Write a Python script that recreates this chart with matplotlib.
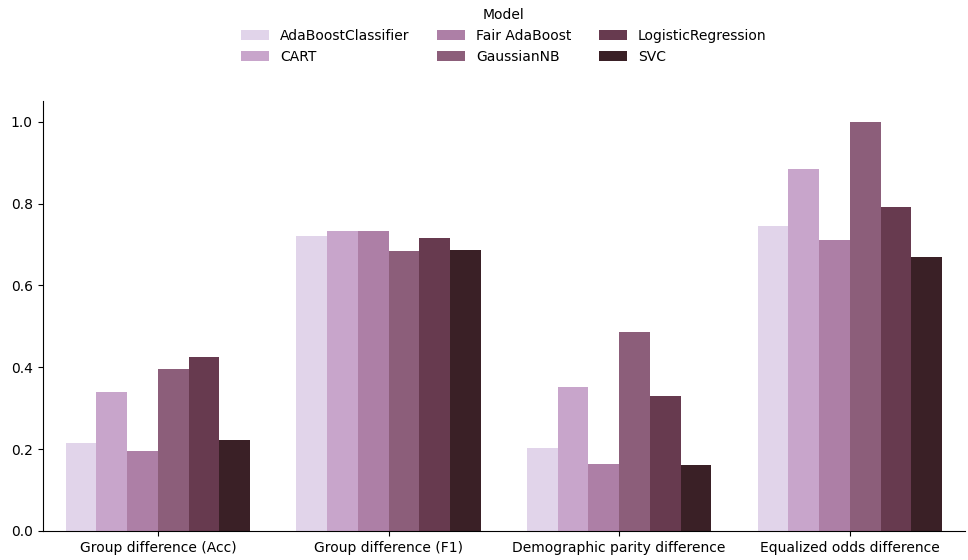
import numpy as np
import matplotlib
matplotlib.use("Agg")
import matplotlib.pyplot as plt

metrics = ["Group difference (Acc)", "Group difference (F1)",
           "Demographic parity difference", "Equalized odds difference"]
models = ["AdaBoostClassifier", "CART", "Fair AdaBoost",
          "GaussianNB", "LogisticRegression", "SVC"]

ada_boost = [0.216, 0.720, 0.203, 0.745]
cart = [0.340, 0.732, 0.351, 0.885]
fair_ada_boost = [0.196, 0.733, 0.164, 0.710]
gaussian_nb = [0.395, 0.684, 0.486, 1.000]
logistic_regression = [0.426, 0.717, 0.330, 0.791]
svc = [0.222, 0.687, 0.161, 0.669]

series = [ada_boost, cart, fair_ada_boost, gaussian_nb, logistic_regression, svc]
colors = ["#e1d4ea", "#c8a5cb", "#ad7fa6", "#8c5e7a", "#673a4f", "#3a2026"]

fig = plt.figure(figsize=(9.68, 5.6), dpi=100)
ax = fig.add_axes([0.044, 0.052, 0.953, 0.767])

x = np.arange(len(metrics))
n = len(models)
width = 0.8 / n
for i, (vals, name, c) in enumerate(zip(series, models, colors)):
    offs = -0.4 + width * (i + 0.5)
    ax.bar(x + offs, vals, width, color=c, label=name, edgecolor="none")

ax.set_xticks(x)
ax.set_xticklabels(metrics)
ax.set_xlim(-0.5, len(metrics) - 0.5)
ax.set_ylim(0, 1.05)
ax.set_yticks([0.0, 0.2, 0.4, 0.6, 0.8, 1.0])
ax.spines["top"].set_visible(False)
ax.spines["right"].set_visible(False)

ax.legend(title="Model", ncol=3, loc="lower center", bbox_to_anchor=(0.5, 1.075),
          frameon=False, borderaxespad=0, handlelength=2.0, columnspacing=2.0)

fig.savefig("out.png", dpi=100)
